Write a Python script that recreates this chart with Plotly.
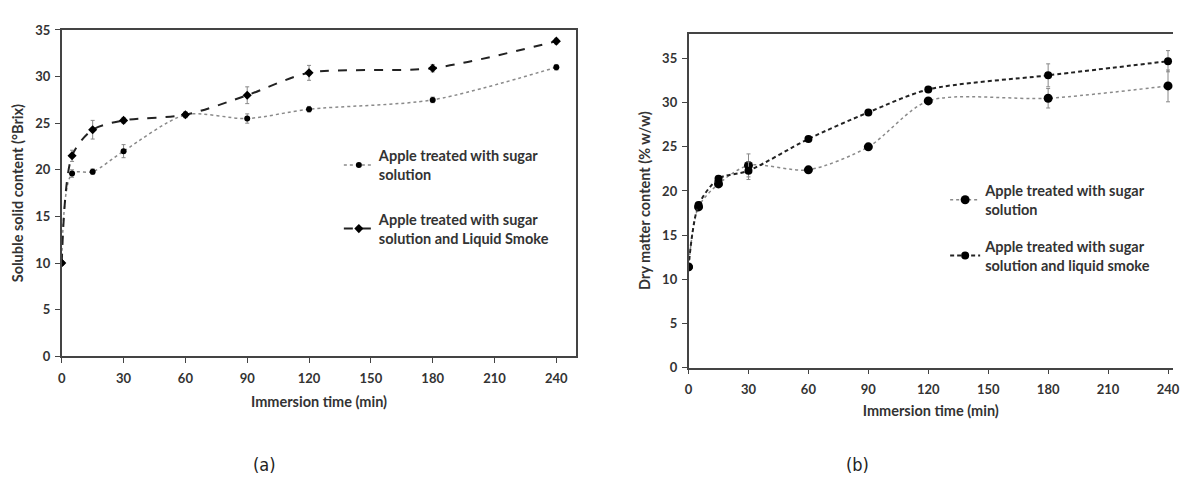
import plotly.graph_objects as go

time = [0, 5, 15, 30, 60, 90, 120, 180, 240]
x_ticks = [0, 30, 60, 90, 120, 150, 180, 210, 240]

a_sugar = [10.0, 19.6, 19.8, 22.0, 25.9, 25.5, 26.5, 27.5, 31.0]
a_sugar_err = [0.2, 0.4, 0.3, 0.7, 0.3, 0.5, 0.3, 0.3, 0.3]
a_smoke = [10.0, 21.5, 24.3, 25.3, 25.9, 28.0, 30.4, 30.9, 33.8]
a_smoke_err = [0.2, 0.6, 1.0, 0.3, 0.3, 0.9, 0.8, 0.4, 0.3]

b_sugar = [11.4, 18.2, 20.8, 22.9, 22.4, 25.0, 30.2, 30.5, 31.9]
b_sugar_err = [0.3, 0.3, 0.4, 1.3, 0.3, 0.3, 0.3, 1.1, 1.8]
b_smoke = [11.4, 18.4, 21.4, 22.3, 25.9, 28.9, 31.5, 33.1, 34.7]
b_smoke_err = [0.3, 0.3, 0.3, 1.0, 0.3, 0.3, 0.3, 1.3, 1.2]

name_a1 = "Apple treated with sugar<br>solution"
name_a2 = "Apple treated with sugar<br>solution and Liquid Smoke"
name_b1 = "Apple treated with sugar<br>solution"
name_b2 = "Apple treated with sugar<br>solution and liquid smoke"

FONT = "Lato"
TXT = "#333333"

def err(vals):
    return dict(type="data", array=vals, visible=True, color="#888888", thickness=1, width=2)

fig = go.Figure()
fig.add_trace(go.Scatter(x=time, y=a_sugar, name=name_a1, mode="lines+markers", legendgroup="a1",
                         line=dict(color="#8a8a8a", width=1.5, dash="dot", shape="spline", smoothing=0.8),
                         marker=dict(symbol="circle", size=6, color="black"),
                         error_y=err(a_sugar_err), xaxis="x", yaxis="y", legend="legend"))
fig.add_trace(go.Scatter(x=time, y=a_smoke, name=name_a2, mode="lines+markers", legendgroup="a2",
                         line=dict(color="#222222", width=2, dash="dash", shape="spline", smoothing=0.8),
                         marker=dict(symbol="diamond", size=7, color="black"),
                         error_y=err(a_smoke_err), xaxis="x", yaxis="y", legend="legend"))
fig.add_trace(go.Scatter(x=time, y=b_sugar, name=name_b1, mode="lines+markers", legendgroup="b1",
                         line=dict(color="#8a8a8a", width=1.5, dash="dot", shape="spline", smoothing=0.8),
                         marker=dict(symbol="circle", size=9, color="black"),
                         error_y=err(b_sugar_err), xaxis="x2", yaxis="y2", legend="legend2"))
fig.add_trace(go.Scatter(x=time, y=b_smoke, name=name_b2, mode="lines+markers", legendgroup="b2",
                         line=dict(color="#222222", width=2, dash="4px,3px", shape="spline", smoothing=0.8),
                         marker=dict(symbol="circle", size=8, color="black"),
                         error_y=err(b_smoke_err), xaxis="x2", yaxis="y2", legend="legend2"))

W, H = 1180, 491
def px(x):
    return x / W
def py(y):
    return (H - y) / H

tickfont = dict(family=FONT, size=13, color=TXT, weight="bold")
titlefont = dict(family=FONT, size=14.5, color=TXT, weight="bold")
legfont = dict(family=FONT, size=14.5, color=TXT, weight="bold")

axis_common = dict(showgrid=False, zeroline=False, showline=True, linecolor="#444444", linewidth=1.5,
                   ticks="outside", ticklen=5, tickcolor="#444444", tickfont=tickfont,
                   ticklabeloverflow="allow")

fig.update_layout(
    width=W, height=H, margin=dict(l=0, r=0, t=0, b=0),
    paper_bgcolor="white", plot_bgcolor="white",
    xaxis=dict(domain=[px(58.3), px(577.7)], range=[0, 249.7], tickvals=x_ticks,
               mirror=True, anchor="y", ticklabelstandoff=4,
               title=dict(text="Immersion time (min)", font=titlefont, standoff=12), **axis_common),
    yaxis=dict(domain=[py(360), py(22.7)], range=[0, 35], dtick=5, mirror=True, anchor="x",
               ticklabelstandoff=2,
               title=dict(text="Soluble solid content (°Brix)", font=titlefont, standoff=8), **axis_common),
    xaxis2=dict(domain=[px(691), 1.0], range=[0, 242.5], tickvals=x_ticks,
                mirror=True, anchor="y2", ticklabelstandoff=4,
                title=dict(text="Immersion time (min)", font=titlefont, standoff=10), **axis_common),
    yaxis2=dict(domain=[py(371.7), py(26.7)], range=[0, 37.8], tickvals=[0, 5, 10, 15, 20, 25, 30, 35],
                mirror=False, anchor="x2", ticklabelstandoff=2,
                title=dict(text="Dry matter content (% w/w)", font=titlefont, standoff=8), **axis_common),
    legend=dict(x=px(338), y=py(136), xanchor="left", yanchor="top", bgcolor="rgba(0,0,0,0)",
                font=legfont, tracegroupgap=23, itemwidth=30, traceorder="grouped"),
    legend2=dict(x=px(950), y=py(172), xanchor="left", yanchor="top", bgcolor="rgba(0,0,0,0)",
                 font=legfont, tracegroupgap=15, itemwidth=30, traceorder="grouped"),
    showlegend=True,
    annotations=[
        dict(text="(a)", x=px(263), y=py(472), xref="paper", yref="paper", showarrow=False,
             xanchor="center", yanchor="middle",
             font=dict(family="DejaVu Sans Condensed", size=18, color="#222222")),
        dict(text="(b)", x=px(862), y=py(472), xref="paper", yref="paper", showarrow=False,
             xanchor="center", yanchor="middle",
             font=dict(family="DejaVu Sans Condensed", size=18, color="#222222")),
    ],
)

fig.write_html("out.html")
